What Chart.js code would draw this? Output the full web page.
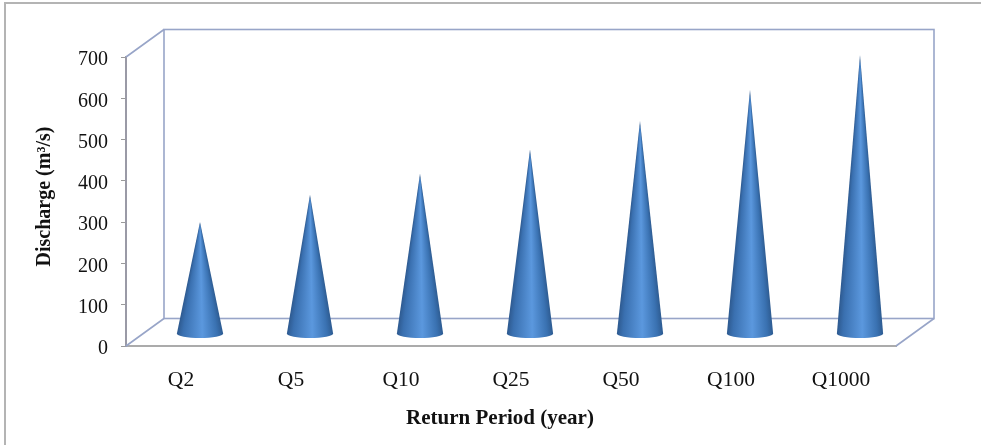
<!DOCTYPE html>
<html>
<head>
<meta charset="utf-8">
<title>Discharge by return period</title>
<script src="https://cdn.jsdelivr.net/npm/chart.js@4/dist/chart.umd.js"></script>
<style>
    html, body { margin: 0; padding: 0; background: #fff; overflow: hidden; }
    #wrap { position: relative; width: 981px; height: 445px; }
    #frame { position: absolute; left: 4px; top: 2px; right: 0; bottom: 0; border-left: 2px solid #b4b4b4; border-top: 2px solid #b4b4b4; }
    canvas { position: absolute; left: 0; top: 0; }
</style>
</head>
<body>
<div id="wrap">
    <div id="frame"></div>
    <canvas id="dischargeChart" width="981" height="445"></canvas>
</div>
<script>
const categories = ['Q2', 'Q5', 'Q10', 'Q25', 'Q50', 'Q100', 'Q1000'];
const discharge = [271, 337, 388, 446, 516, 591, 676];
const yTicks = [0, 100, 200, 300, 400, 500, 600, 700];

// how far the back wall sits behind the front plane
const DEPTH_X = 38;
const DEPTH_Y = 27.5;
// cones stand about half way back on the floor
const CONE_SHIFT_X = 19;
const CONE_LIFT = 12;

function shadeRow(ctx, cx, half, y) {
    const g = ctx.createLinearGradient(cx - half, 0, cx + half, 0);
    g.addColorStop(0, '#2e5a90');
    g.addColorStop(0.13, '#3a70b0');
    g.addColorStop(0.55, '#5b98de');
    g.addColorStop(0.87, '#3a72b2');
    g.addColorStop(1, '#2e5c92');
    ctx.fillStyle = g;
    ctx.fillRect(cx - half - 1, y, half * 2 + 2, 1);
}

class ConeElement extends Chart.BarElement {
    static id = 'cone';

    draw(ctx) {
        const { x, y, base, width } = this.getProps(['x', 'y', 'base', 'width']);
        const cx = x + CONE_SHIFT_X;
        const tip = y - CONE_LIFT;
        const floor = base - CONE_LIFT;
        const hw = width / 2;
        const ry = 4.5;

        ctx.save();
        ctx.beginPath();
        ctx.moveTo(cx, tip);
        ctx.lineTo(cx + hw, floor);
        ctx.ellipse(cx, floor, hw, ry, 0, 0, Math.PI);
        ctx.closePath();
        ctx.clip();
        // one gradient per pixel row so the dark edges run all the way up to the tip
        for (let row = Math.floor(tip); row < floor + ry + 1; row++) {
            const half = row <= floor
                ? Math.max(hw * (row - tip) / (floor - tip), 0.5)
                : hw;
            shadeRow(ctx, cx, half, row);
        }
        ctx.restore();
    }
}

class ConeController extends Chart.BarController {
    static id = 'coneBar';
    static defaults = { ...Chart.BarController.defaults, dataElementType: 'cone' };
}

Chart.register(ConeController, ConeElement);

const serif = '"Liberation Serif", "Times New Roman", serif';

// back wall and floor outline of the 3D box
const wallsPlugin = {
    id: 'walls',
    beforeDatasetsDraw(chart) {
        const { left, right, top, bottom } = chart.chartArea;
        const ctx = chart.ctx;
        ctx.save();
        ctx.lineWidth = 1.6;
        ctx.strokeStyle = '#98a5c8';
        ctx.strokeRect(left + DEPTH_X, top - DEPTH_Y, right - left, bottom - top);
        ctx.beginPath();
        ctx.moveTo(left, top);
        ctx.lineTo(left + DEPTH_X, top - DEPTH_Y);
        ctx.moveTo(left, bottom);
        ctx.lineTo(left + DEPTH_X, bottom - DEPTH_Y);
        ctx.moveTo(right, bottom);
        ctx.lineTo(right + DEPTH_X, bottom - DEPTH_Y);
        ctx.stroke();
        ctx.restore();
    }
};

// axis titles sit off the scale centres, so they are placed here instead of scale.title
const axisTitlesPlugin = {
    id: 'axisTitles',
    afterDraw(chart) {
        const { left, right, top, bottom } = chart.chartArea;
        const ctx = chart.ctx;
        ctx.save();
        ctx.fillStyle = '#111';
        ctx.textAlign = 'center';
        ctx.textBaseline = 'middle';
        ctx.font = 'bold 21px ' + serif;
        ctx.fillText('Return Period (year)', (left + right) / 2 - 11, bottom + 73);
        ctx.translate(left - 81, (top + bottom) / 2 - 5);
        ctx.rotate(-Math.PI / 2);
        ctx.font = 'bold 20px ' + serif;
        ctx.fillText('Discharge (m³/s)', 0, 0);
        ctx.restore();
    }
};

new Chart(document.getElementById('dischargeChart'), {
    type: 'coneBar',
    data: {
        labels: categories,
        datasets: [{
            label: 'Discharge',
            data: discharge,
            backgroundColor: '#4a86cc',
            categoryPercentage: 1,
            barPercentage: 0.42,
            clip: false
        }]
    },
    options: {
        responsive: false,
        animation: false,
        layout: { padding: { left: 0, top: 57, right: 85, bottom: 0 } },
        plugins: { legend: { display: false }, tooltip: { enabled: false } },
        scales: {
            x: {
                afterFit: (scale) => { scale.height = 99; },
                grid: { display: false, drawTicks: false },
                border: { display: true, color: '#ababab', width: 2 },
                ticks: { color: '#111', padding: 21, maxRotation: 0, font: { family: serif, size: 21.5 } },
                title: { display: false }
            },
            y: {
                min: 0,
                max: 700,
                afterFit: (scale) => { scale.width = 126; },
                afterBuildTicks: (scale) => { scale.ticks = yTicks.map((value) => ({ value })); },
                grid: { drawOnChartArea: false, drawTicks: true, tickLength: 5, color: '#9a9a9a' },
                border: { display: true, color: '#9a9aa6', width: 2 },
                ticks: { color: '#111', padding: 13, labelOffset: 3, font: { family: serif, size: 20 } },
                title: { display: false }
            }
        }
    },
    plugins: [wallsPlugin, axisTitlesPlugin]
});
</script>
</body>
</html>
